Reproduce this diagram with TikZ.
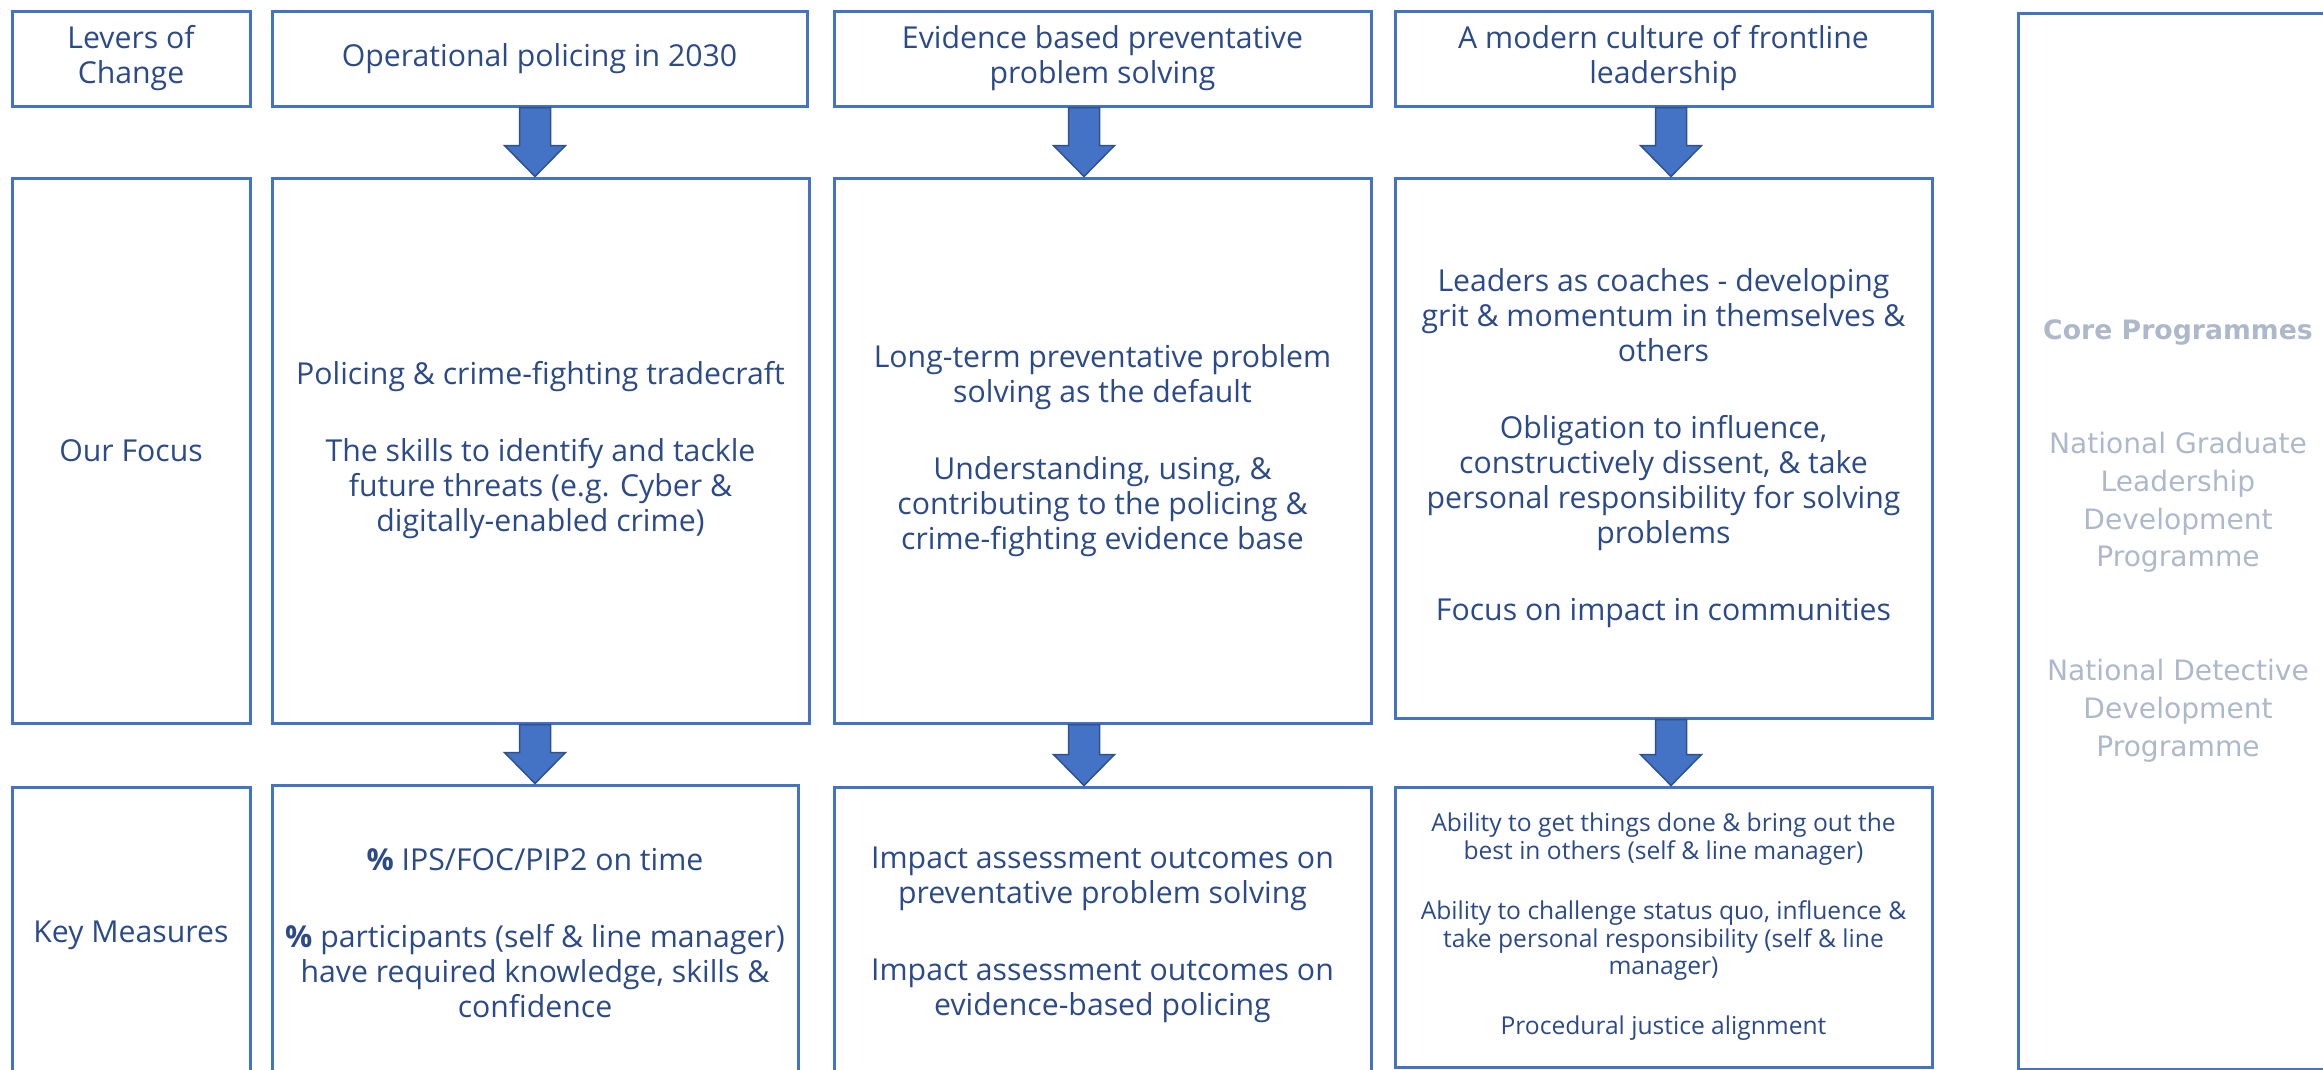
\documentclass[tikz,border=0pt]{standalone}
\usepackage{fontspec}
\usepackage{tikz}
\usetikzlibrary{positioning,calc}
\setmainfont{Open Sans}
\newfontfamily\corefont{DejaVu Sans}

\definecolor{boxblue}{HTML}{4472C4}
\definecolor{arrowedge}{HTML}{2F528F}
\definecolor{textblue}{HTML}{2B4A8A}
\definecolor{coregrey}{HTML}{ADB9CA}

\newcommand{\bodysize}{\fontsize{8.6}{9.96}\selectfont}
\newcommand{\smallsize}{\fontsize{7.0}{7.8}\selectfont}
\newcommand{\coresize}{\fontsize{8.0}{10.8}\selectfont}

\tikzset{
  box/.style={draw=boxblue, line width=0.3mm, align=center, text=textblue, inner sep=2pt, font=\bodysize},
  corebox/.style={draw=boxblue, line width=0.3mm, align=center, text=coregrey, inner sep=2pt, font=\corefont\coresize},
  bigarrow/.style={fill=boxblue, draw=arrowedge, line width=0.15mm, line join=miter}
}

\begin{document}
\begin{tikzpicture}[x=0.1mm,y=-0.1mm]
\useasboundingbox (0,0) rectangle (2323,1069);
\clip (0,0) rectangle (2323,1069);

% levers of change
\node at (131,58.5) [box, minimum width=23.8mm, minimum height=9.5mm] (lev) {Levers of\\Change};
\node at (539.5,58.5) [box, minimum width=53.5mm, minimum height=9.5mm] (op) {Operational policing in 2030};
\node at (1102.5,58.5) [box, minimum width=53.7mm, minimum height=9.5mm] (ev) {Evidence based preventative\\problem solving};
\node at (1663.5,58.5) [box, minimum width=53.7mm, minimum height=9.5mm] (ml) {A modern culture of frontline\\leadership};

% our focus
\node at (131,450.5) [box, minimum width=23.8mm, minimum height=54.5mm] (foc) {Our Focus};
\node at (540.5,450.5) [box, minimum width=53.7mm, minimum height=54.5mm] (opf) {Policing \& crime-fighting tradecraft\\[1.2\baselineskip]
The skills to identify and tackle\\future threats (e.g. Cyber \&\\digitally-enabled crime)};
\node at (1102.5,450.5) [box, minimum width=53.7mm, minimum height=54.5mm] (evf) {Long-term preventative problem\\solving as the default\\[1.2\baselineskip]
Understanding, using, \&\\contributing to the policing \&\\crime-fighting evidence base};
\node at (1663.5,448) [box, minimum width=53.7mm, minimum height=54mm] (mlf) {Leaders as coaches - developing\\grit \& momentum in themselves \&\\others\\[1.2\baselineskip]
Obligation to influence,\\constructively dissent, \& take\\personal responsibility for solving\\problems\\[1.2\baselineskip]
Focus on impact in communities};

% key measures
\node at (131,935) [box, minimum width=23.8mm, minimum height=29.6mm] (km) {Key Measures};
\node at (535,933) [box, minimum width=52.6mm, minimum height=29.6mm] (opm) {\textbf{\%} IPS/FOC/PIP2 on time\\[1.2\baselineskip]
\textbf{\%} participants (self \& line manager)\\have required knowledge, skills \&\\confidence};
\node at (1102.5,935) [box, minimum width=53.7mm, minimum height=29.6mm] (evm) {Impact assessment outcomes on\\preventative problem solving\\[1.2\baselineskip]
Impact assessment outcomes on\\evidence-based policing};
\node at (1663.5,927) [box, font=\smallsize, minimum width=53.7mm, minimum height=28mm] (mlm) {Ability to get things done \& bring out the\\best in others (self \& line manager)\\[1.2\baselineskip]
Ability to challenge status quo, influence \&\\take personal responsibility (self \& line\\manager)\\[1.2\baselineskip]
Procedural justice alignment};

% core programmes
\node at (2178,541) [corebox, minimum width=32mm, minimum height=105.6mm] (core) {{\fontsize{7.6}{10.8}\selectfont\textbf{Core Programmes}}\\[2\baselineskip]
National Graduate\\Leadership\\Development\\Programme\\[2\baselineskip]
National Detective\\Development\\Programme};

% block arrows
\foreach \a/\b/\x in {op/opf/535, ev/evf/1084, ml/mlf/1671, opf/opm/535, evf/evm/1084, mlf/mlm/1671}{
  \coordinate (t) at (\x,0 |- \a.south);
  \coordinate (h) at (\x,0 |- \b.north);
  \filldraw[bigarrow] ($(t)+(-15.5,0)$) -- ($(h)+(-15.5,-31)$) -- ($(h)+(-30.5,-31)$) -- (h)
    -- ($(h)+(30.5,-31)$) -- ($(h)+(15.5,-31)$) -- ($(t)+(15.5,0)$) -- cycle;
}

\end{tikzpicture}
\end{document}
